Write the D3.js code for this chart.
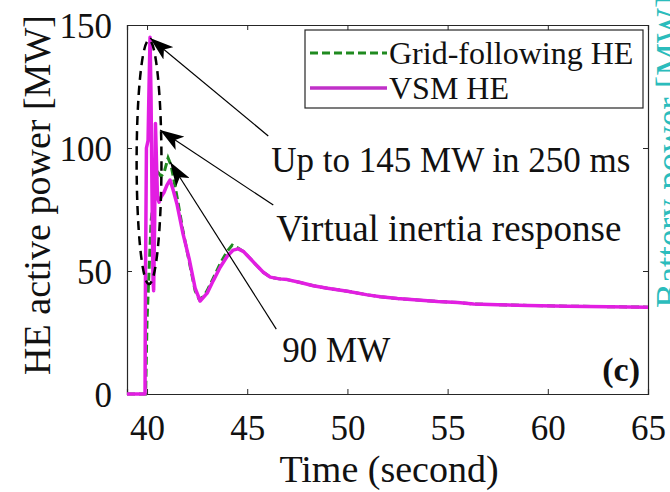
<!DOCTYPE html>
<html><head><meta charset="utf-8">
<script src="https://cdn.jsdelivr.net/npm/d3@7/dist/d3.min.js"></script>
<style>body{margin:0;background:#fff;overflow:hidden}svg{display:block}text{font-family:"Liberation Serif","Times New Roman",serif;fill:#111}</style>
</head><body><svg id="c" width="670" height="492"></svg>
<script>
// ---- data ----
const vsmT = [39.0,39.9,39.92,39.97,40.05,40.1,40.15,40.2,40.25,40.3,40.33,40.38,40.42,40.47,40.52,40.6,40.7,40.85,41.0,41.15,41.3,41.5,41.8,42.1,42.4,42.65,43.0,43.3,43.65,44.0,44.3,44.55,44.8,45.1,45.5,45.8,46.15,46.6,47.0,47.65,48.3,49.0,50.0,51.0,51.65,52.5,53.5,54.5,55.5,56.3,57.5,59.0,61.0,63.0,65.0];
const vsmP = [0,0,45,100,103,125,145,120,80,46,42,70,110,95,80,78,80,82,85,87,83,77,65,55,43,37.8,41,46,51.5,56,58.5,59,58,55.5,52,49.5,47.5,46.8,46.5,45.3,44,43,41.8,40.3,39.5,38.8,38.2,37.6,37.2,36.6,36.3,36,35.7,35.5,35.3];
const gflT = [39.0,39.93,40.0,40.2,40.4,40.55,40.7,40.85,41.05,41.2,41.5,41.8,42.1,42.4,42.6,42.8,43.0,43.3,43.65,44.0,44.25,44.5,44.8,45.1,45.5,45.8,46.15,46.6,47.0,47.65,48.3,49.0,50.0,51.0,51.65,52.5,53.5,54.5,55.5,56.3,57.5,59.0,61.0,63.0,65.0];
const gflP = [0,0,30,70,85,90,88.5,90,96,93,80,66,54,42,38.5,39.5,42,47,53,58,60.5,59.5,58,55.5,52,49.5,47.5,46.8,46.5,45.3,44,43,41.8,40.3,39.5,38.8,38.2,37.6,37.2,36.6,36.3,36,35.7,35.5,35.3];
const xTicks = [40,45,50,55,60,65];
const yTicks = [0,50,100,150];
const seriesNames = ["Grid-following HE","VSM HE"];
const annoTexts = ["Up to 145 MW in 250 ms","Virtual inertia response","90 MW"];
const annoTextT = [46.2,46.45,46.75];
const annoTextP = [90.2,62.2,13];
const arrowTailT = [46.05,46.3,46.45];
const arrowTailP = [104.9,76.8,26.4];
const arrowTipT = [40.15,40.65,41.15];
const arrowTipP = [144.7,107.3,94.3];
const ellipseC = [40.1,94.3]; const ellipseR = [0.62,49.6];

// ---- layout ----
const L=127,R=648,T=25,B=394;
const svg=d3.select("#c");
const x=d3.scaleLinear().domain([39,65]).range([L,R]);
const y=d3.scaleLinear().domain([0,150]).range([B,T]);
const frame="#262626";

svg.append("defs").append("marker").attr("id","ah").attr("viewBox","0 0 24 16")
 .attr("refX",24).attr("refY",8).attr("markerWidth",24).attr("markerHeight",16)
 .attr("markerUnits","userSpaceOnUse").attr("orient","auto")
 .append("path").attr("d","M0,0 L24,8 L0,16 L6,8 Z").attr("fill","#000");

// axes (ticks inward)
const gx=svg.append("g").attr("transform",`translate(0,${B})`).call(d3.axisBottom(x).tickValues(xTicks).tickSize(-5).tickPadding(14));
const gxt=svg.append("g").attr("transform",`translate(0,${T})`).call(d3.axisTop(x).tickValues(xTicks).tickSize(-5).tickFormat(""));
const gy=svg.append("g").attr("transform",`translate(${L},0)`).call(d3.axisLeft(y).tickValues(yTicks).tickSize(-5).tickPadding(15));
const gyr=svg.append("g").attr("transform",`translate(${R},0)`).call(d3.axisRight(y).tickValues(yTicks).tickSize(-5).tickFormat(""));
[gx,gxt,gy,gyr].forEach(g=>{g.select(".domain").attr("stroke",frame).attr("stroke-width",1.2);g.selectAll(".tick line").attr("stroke",frame);});
gx.selectAll("text").attr("font-size",35).attr("font-family","Liberation Serif").attr("fill","#222").attr("dy","0.9em");
gy.selectAll("text").attr("font-size",35).attr("font-family","Liberation Serif").attr("fill","#222").attr("dy","0.35em");

// series
const line=d3.line().x(d=>x(d[0])).y(d=>y(d[1]));
const gfl=gflT.map((t,i)=>[t,gflP[i]]);
const vsm=vsmT.map((t,i)=>[t,vsmP[i]]);
svg.append("path").datum(gfl).attr("d",line).attr("fill","none").attr("stroke","#1f8a1f").attr("stroke-width",3).attr("stroke-dasharray","8,4");
svg.append("path").datum(vsm).attr("d",line).attr("fill","none").attr("stroke","#e21ee2").attr("stroke-width",3.5).attr("stroke-linejoin","round");

// ellipse
svg.append("ellipse").attr("cx",x(ellipseC[0])).attr("cy",y(ellipseC[1]))
 .attr("rx",x(ellipseC[0]+ellipseR[0])-x(ellipseC[0])).attr("ry",y(0)-y(ellipseR[1]))
 .attr("fill","none").attr("stroke","#000").attr("stroke-width",2.5).attr("stroke-dasharray","9,6");

// arrows
arrowTipT.forEach((t,i)=>{
 svg.append("line").attr("x1",x(arrowTailT[i])).attr("y1",y(arrowTailP[i])).attr("x2",x(t)).attr("y2",y(arrowTipP[i]))
  .attr("stroke","#000").attr("stroke-width",1.2).attr("marker-end","url(#ah)");
});
const annoSize=[35,37,35];
annoTexts.forEach((s,i)=>{
 svg.append("text").attr("x",x(annoTextT[i])).attr("y",y(annoTextP[i])).attr("font-size",annoSize[i]).text(s);
});
svg.append("text").attr("x",640).attr("y",381).attr("text-anchor","end").attr("font-size",34).attr("font-weight","bold").text("(c)");

// legend
const lg=svg.append("g");
lg.append("rect").attr("x",305).attr("y",30).attr("width",338).attr("height",78).attr("fill","#fff").attr("stroke",frame).attr("stroke-width",1.2);
const lgY=[53,88];
lg.append("line").attr("x1",310).attr("x2",387).attr("y1",lgY[0]).attr("y2",lgY[0]).attr("stroke","#1f8a1f").attr("stroke-width",3).attr("stroke-dasharray","8,4");
lg.append("line").attr("x1",310).attr("x2",387).attr("y1",lgY[1]).attr("y2",lgY[1]).attr("stroke","#c030c8").attr("stroke-width",3.5);
seriesNames.forEach((s,i)=>lg.append("text").attr("x",389).attr("y",lgY[i]).attr("dy","0.35em").attr("font-size",32).text(s));

// axis titles
svg.append("text").attr("x",389).attr("y",482).attr("text-anchor","middle").attr("font-size",38).text("Time (second)");
svg.append("text").attr("transform","translate(50,195) rotate(-90)").attr("text-anchor","middle").attr("font-size",38).text("HE active power [MW]");
svg.append("text").attr("transform","translate(682,308) rotate(-90)").attr("text-anchor","start").attr("font-size",37).style("fill","#2bbcbc").text("Battery power [MW]");
</script></body></html>
